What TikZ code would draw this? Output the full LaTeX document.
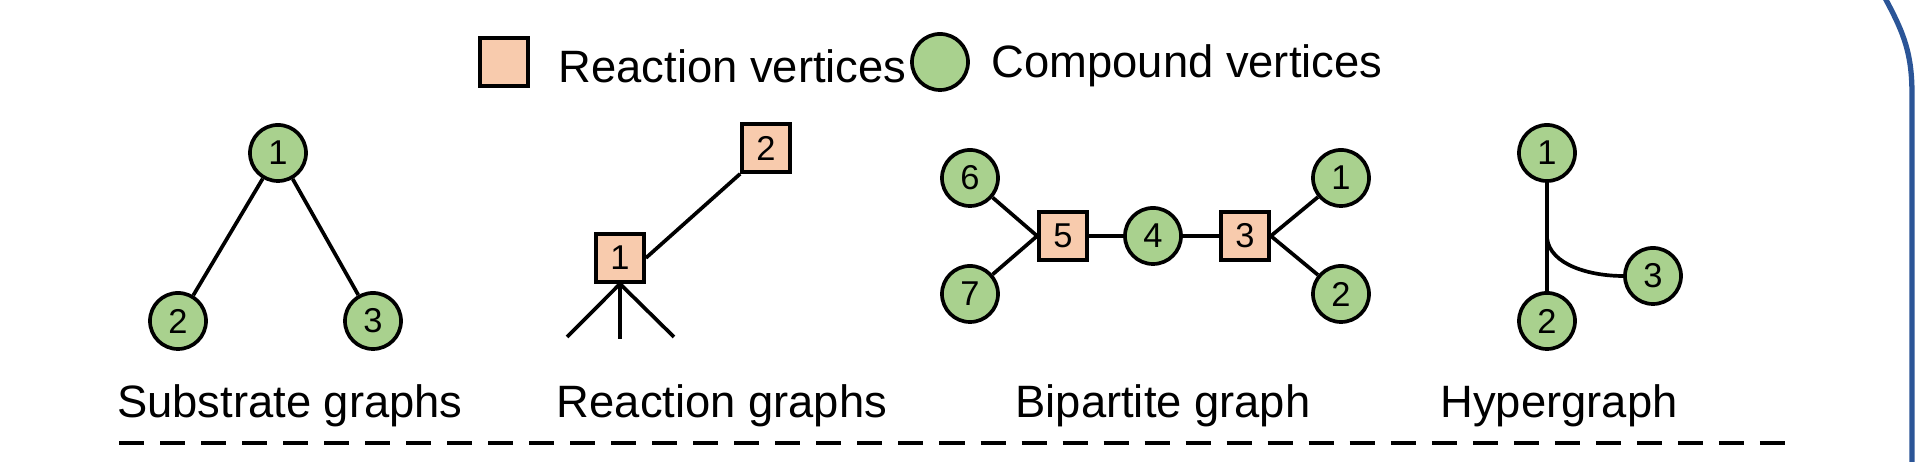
\documentclass[tikz,border=0pt]{standalone}
\usepackage{fontspec}
\setmainfont{Liberation Sans}
\definecolor{rv}{HTML}{F8CBAD}
\definecolor{cv}{HTML}{A9D18E}
\definecolor{frameblue}{HTML}{2B5597}
\begin{document}
\begin{tikzpicture}[x=0.01cm,y=-0.01cm,line width=1.05pt,
  rx/.style={draw,fill=rv,minimum size=0.48cm,inner sep=0pt,font=\fontsize{9.8}{11}\selectfont},
  cx/.style={draw,fill=cv,circle,minimum size=0.56cm,inner sep=0pt,font=\fontsize{9.8}{11}\selectfont},
  lab/.style={font=\fontsize{12.9}{15}\selectfont}]
\useasboundingbox (0,0) rectangle (1920,462);
% legend
\node[rx] (lr) at (504,62) {};
\node[lab,anchor=west] (lrt) at (545,66) {Reaction vertices};
\node[cx] (lc) at (940,62) {};
\node[lab,anchor=west] (lct) at (978,66) {Compound vertices};
% substrate
\node[cx] (s1) at (278,153) {1};
\node[cx] (s2) at (178,321) {2};
\node[cx] (s3) at (373,321) {3};
\draw (s1)--(s2) (s1)--(s3);
\node[lab] (sl) at (290,406) {Substrate graphs};
% reaction
\node[rx] (r1) at (620,258) {1};
\node[rx] (r2) at (766,148) {2};
\draw (r1.east)--(r2.south west);
\coordinate (ra) at (567,337); \coordinate (rb) at (620,339); \coordinate (rc) at (674,337);
\draw (r1.south)--(ra) (r1.south)--(rb) (r1.south)--(rc);
\node[lab] (rl) at (722,406) {Reaction graphs};
% bipartite
\node[cx] (b6) at (970,178) {6};
\node[cx] (b7) at (970,294) {7};
\node[rx] (b5) at (1063,236) {5};
\node[cx] (b4) at (1153,236) {4};
\node[rx] (b3) at (1245,236) {3};
\node[cx] (b1) at (1341,178) {1};
\node[cx] (b2) at (1341,294) {2};
\draw (b6)--(b5.west) (b7)--(b5.west) (b5)--(b4) (b4)--(b3) (b3.east)--(b1) (b3.east)--(b2);
\node[lab] (bl) at (1163,406) {Bipartite graph};
% hypergraph
\node[cx] (h1) at (1547,153) {1};
\node[cx] (h2) at (1547,321) {2};
\node[cx] (h3) at (1653,276) {3};
\coordinate (hb) at (1547,238);
\draw (h1)--(h2);
\draw (hb) .. controls (1550,265) and (1590,276) .. (h3.west);
\node[lab] (hl) at (1559,406) {Hypergraph};
% dashed separator
\coordinate (d0) at (119,443); \coordinate (d1) at (1790,443);
\draw[line width=1.3pt,dash pattern=on 0.25cm off 0.16cm] (d0)--(d1);
% frame
\draw[frameblue,line width=1.5pt] (1885,-2) .. controls (1905,35) and (1912,55) .. (1912,95) -- (1912,464);
\end{tikzpicture}
\end{document}
